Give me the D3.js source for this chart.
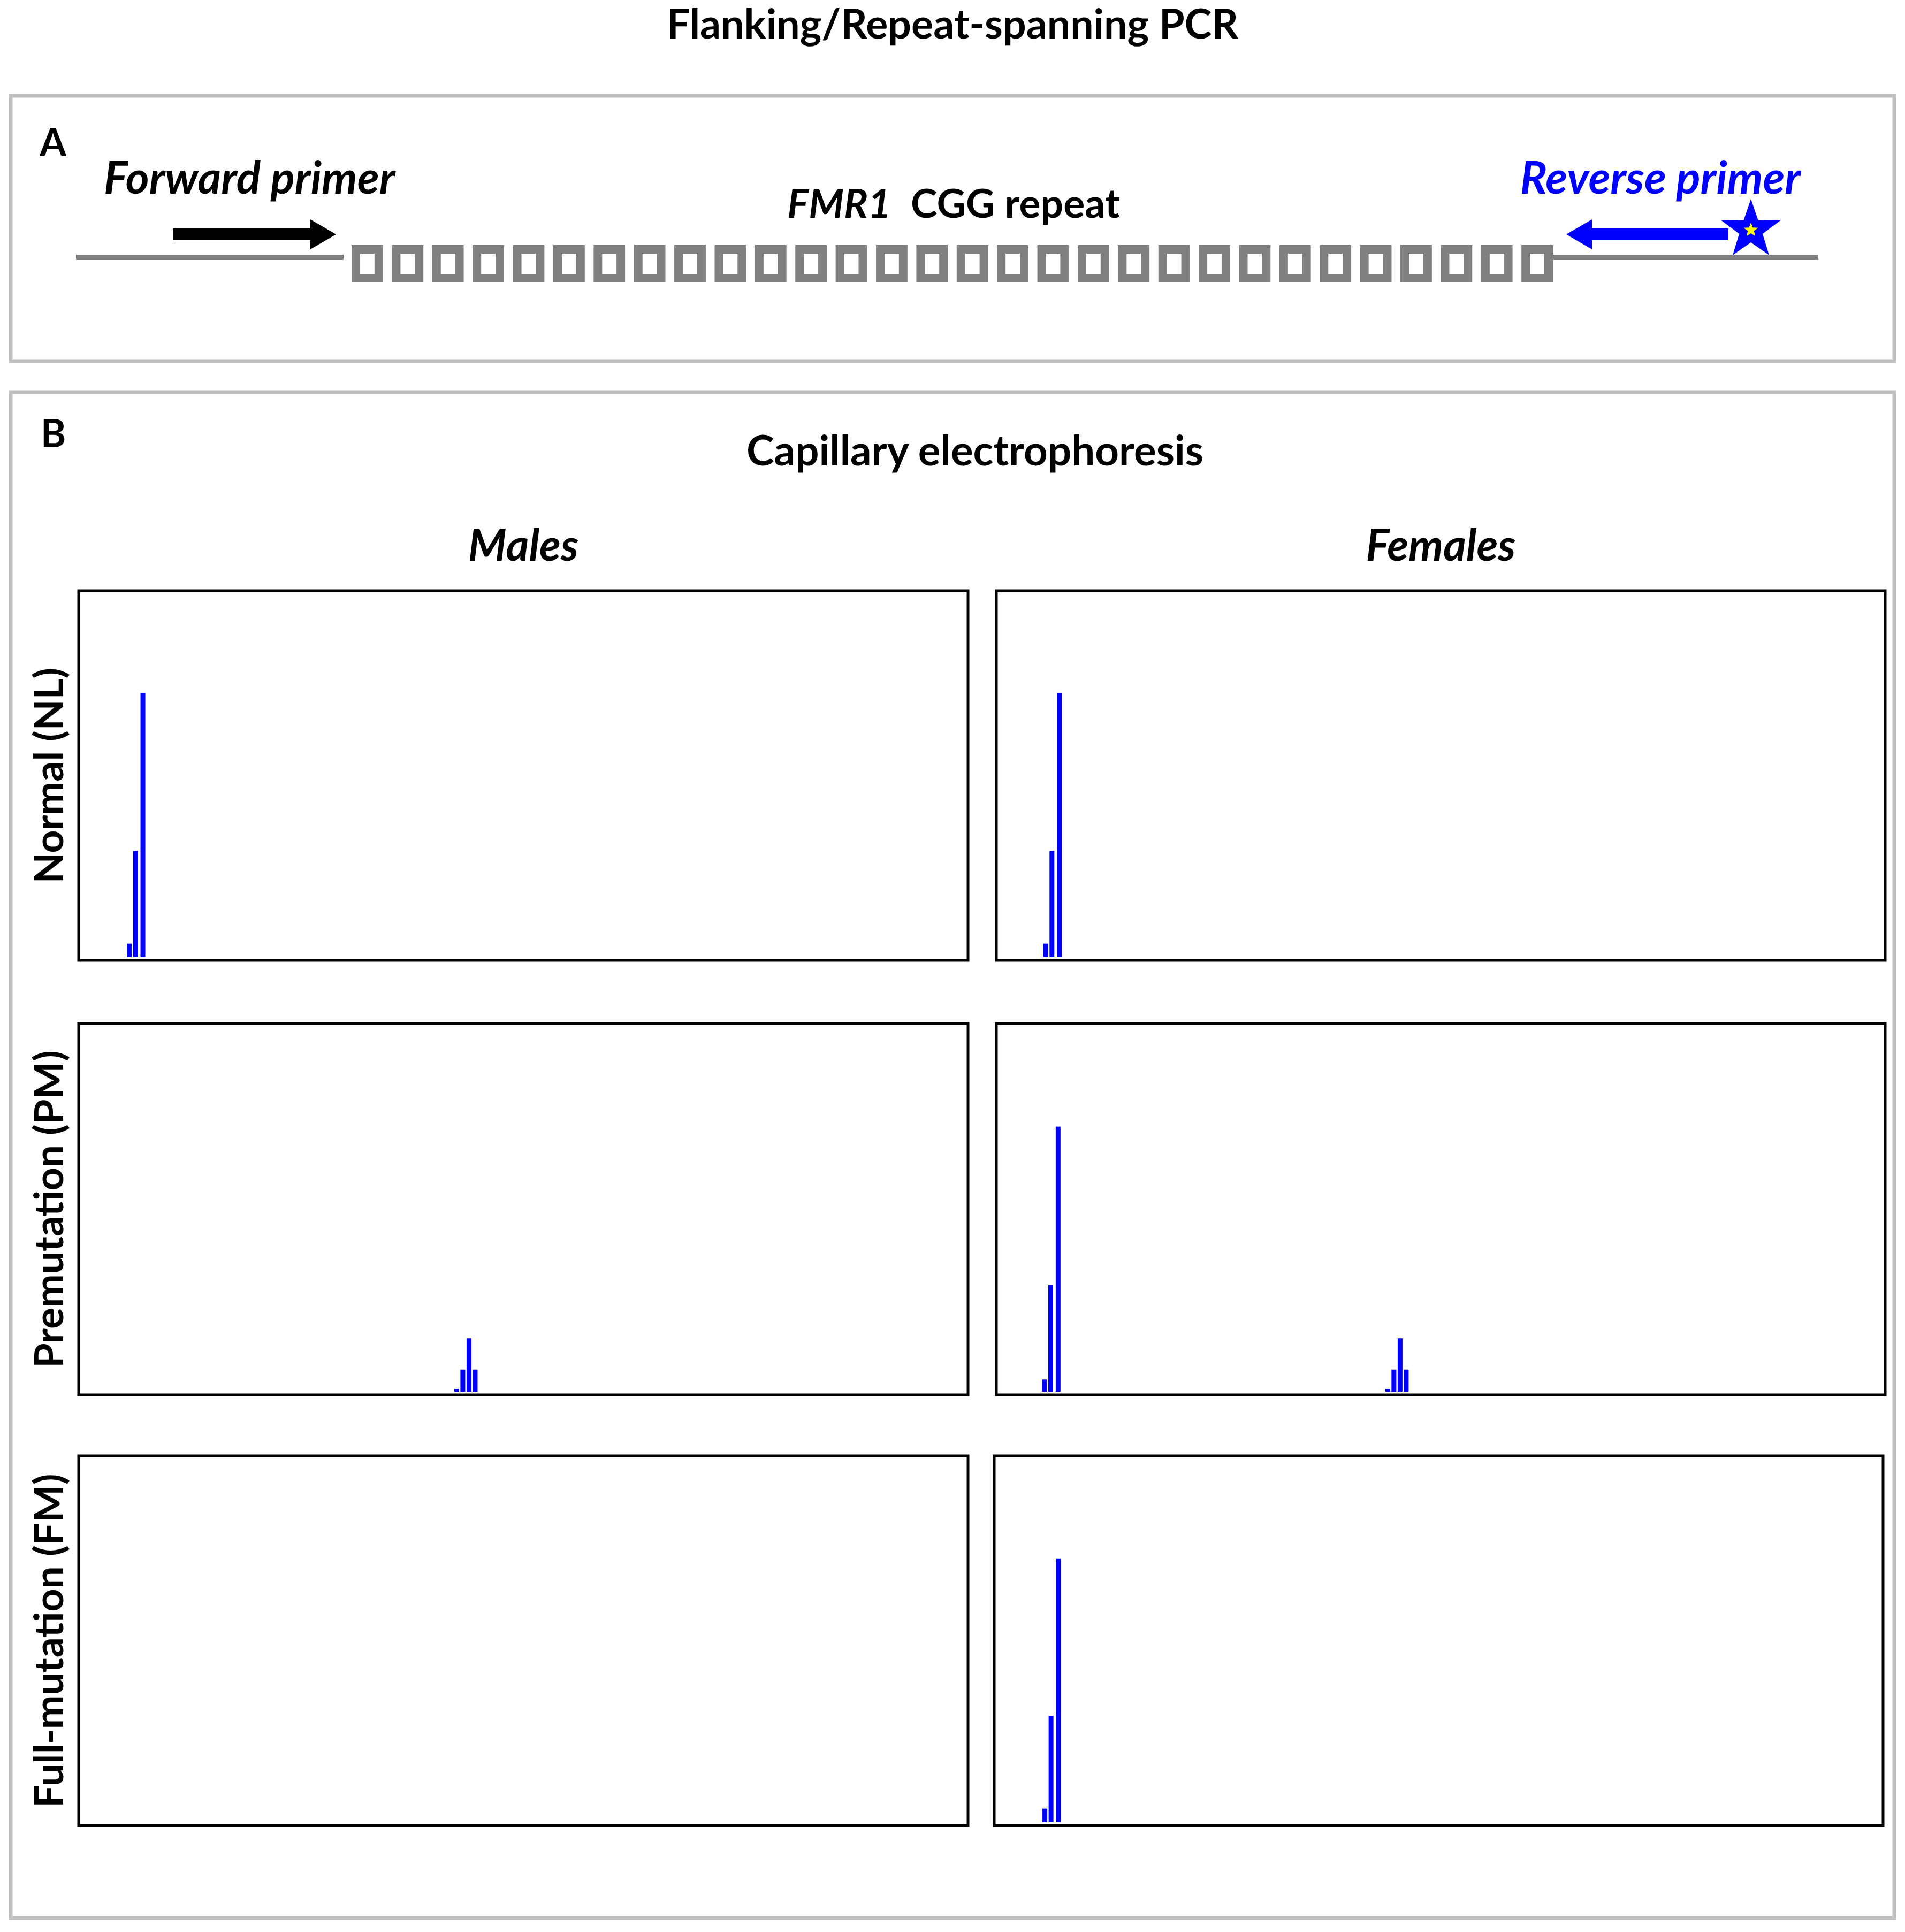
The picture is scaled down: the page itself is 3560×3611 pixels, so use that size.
<!DOCTYPE html>
<html><head><meta charset="utf-8">
<script src="https://cdn.jsdelivr.net/npm/d3@7"></script>
<style>body{margin:0;background:#fff}svg{display:block}text{font-family:Lato,"Open Sans",sans-serif}</style>
</head><body><svg id="c" width="3560" height="3611"></svg>
<script>
// Data (mobility position in panel units 0-720, relative peak height 0-1)
const rowLabels = ["Normal (NL)", "Premutation (PM)", "Full-mutation (FM)"];
const colLabels = ["Males", "Females"];
const maleNL_pos = [41, 46, 52];
const maleNL_h = [0.037, 0.29, 0.72];
const malePM_pos = [306, 311, 316, 321];
const malePM_h = [0.007, 0.06, 0.145, 0.06];
const maleFM_pos = [];
const maleFM_h = [];
const femNL_pos = [40, 45, 51];
const femNL_h = [0.037, 0.29, 0.72];
const femPM_pos = [39, 44, 50, 317, 322, 327, 332];
const femPM_h = [0.033, 0.29, 0.72, 0.007, 0.06, 0.145, 0.06];
const femFM_pos = [41, 46, 52];
const femFM_h = [0.037, 0.29, 0.72];
const nRepeats = 30;

const svg = d3.select("#c");
svg.append("text").attr("x",1780).attr("y",72).attr("text-anchor","middle").attr("font-size",77).attr("font-weight","bold").text("Flanking/Repeat-spanning PCR");

// Panel A
svg.append("rect").attr("x",20).attr("y",179).attr("width",3520).attr("height",496).attr("fill","none").attr("stroke","#bfbfbf").attr("stroke-width",7);
svg.append("text").attr("x",74).attr("y",292).attr("font-size",72).attr("font-weight","bold").text("A");
svg.append("text").attr("x",194).attr("y",362).attr("font-size",84).attr("font-weight","bold").attr("font-style","italic").text("Forward primer");
svg.append("text").attr("x",3365).attr("y",362).attr("text-anchor","end").attr("font-size",84).attr("font-weight","bold").attr("font-style","italic").attr("fill","#0000ff").text("Reverse primer");
const t = svg.append("text").attr("x",1782).attr("y",407).attr("text-anchor","middle").attr("font-size",75).attr("font-weight","bold");
t.append("tspan").attr("font-style","italic").text("FMR1");
t.append("tspan").text("\u00a0 CGG repeat");
svg.append("line").attr("x1",142).attr("x2",642).attr("y1",481).attr("y2",481).attr("stroke","#808080").attr("stroke-width",10);
svg.append("line").attr("x1",2895).attr("x2",3398).attr("y1",481).attr("y2",481).attr("stroke","#808080").attr("stroke-width",10);
const rx = d3.scaleBand().domain(d3.range(nRepeats)).range([657,2902]).paddingInner(0.22);
svg.selectAll("rect.rep").data(d3.range(nRepeats)).join("rect").attr("class","rep")
 .attr("x",d=>rx(d)+8).attr("y",466).attr("width",rx.bandwidth()-16).attr("height",54)
 .attr("fill","none").attr("stroke","#808080").attr("stroke-width",16);
// forward arrow
svg.append("path").attr("d","M323,427 H580 V410 L628,438 L580,466 V449 H323 Z").attr("fill","#000");
// reverse arrow
svg.append("path").attr("d","M3230,427 H2975 V410 L2927,438 L2975,466 V449 H3230 Z").attr("fill","#0000ff");
const star=(cx,cy,R,r)=>d3.range(10).map(i=>{const a=-Math.PI/2+i*Math.PI/5,rr=i%2?r:R;return [cx+rr*Math.cos(a),cy+rr*Math.sin(a)];});
svg.append("polygon").attr("points",star(3272,430,58,23).join(" ")).attr("fill","#0000ff");
svg.append("polygon").attr("points",star(3272,430,14,6).join(" ")).attr("fill","#ffff00");

// Panel B
svg.append("rect").attr("x",20).attr("y",733).attr("width",3520).attr("height",2852).attr("fill","none").attr("stroke","#bfbfbf").attr("stroke-width",7);
svg.append("text").attr("x",76).attr("y",836).attr("font-size",72).attr("font-weight","bold").text("B");
svg.append("text").attr("x",1822).attr("y",870).attr("text-anchor","middle").attr("font-size",78).attr("font-weight","bold").text("Capillary electrophoresis");
const colX = [[147,1809],[1862,3523]];
const rowY = [[1104,1795],[1913,2607],[2721,3412]];
colLabels.forEach((c,i)=>svg.append("text").attr("x",(colX[i][0]+colX[i][1])/2).attr("y",1048).attr("text-anchor","middle").attr("font-size",82).attr("font-weight","bold").attr("font-style","italic").text(c));
rowLabels.forEach((r,j)=>svg.append("text").attr("transform",`translate(118,${(rowY[j][0]+rowY[j][1])/2}) rotate(-90)`).attr("text-anchor","middle").attr("font-size",75).attr("font-weight","bold").text(r));
const panels = [
 [[maleNL_pos,maleNL_h],[femNL_pos,femNL_h]],
 [[malePM_pos,malePM_h],[femPM_pos,femPM_h]],
 [[maleFM_pos,maleFM_h],[femFM_pos,femFM_h]]
];
panels.forEach((row,j)=>row.forEach(([pos,h],i)=>{
  let [x0,x1]=colX[i]; if(j==2&&i==1){x0-=4;x1-=4;}
  const [y0,y1]=rowY[j];
  const x=d3.scaleLinear().domain([0,720]).range([x0,x1]);
  const y=d3.scaleLinear().domain([0,1]).range([y1-6,y0]);
  const g=svg.append("g");
  g.selectAll("rect").data(pos.map((p,k)=>({p,h:h[k]}))).join("rect")
   .attr("x",d=>x(d.p)-4.5).attr("width",9).attr("y",d=>y(d.h)).attr("height",d=>y(0)-y(d.h)).attr("fill","#0000ff");
  g.append("rect").attr("x",x0).attr("y",y0).attr("width",x1-x0).attr("height",y1-y0).attr("fill","none").attr("stroke","#000").attr("stroke-width",5);
}));
</script></body></html>
